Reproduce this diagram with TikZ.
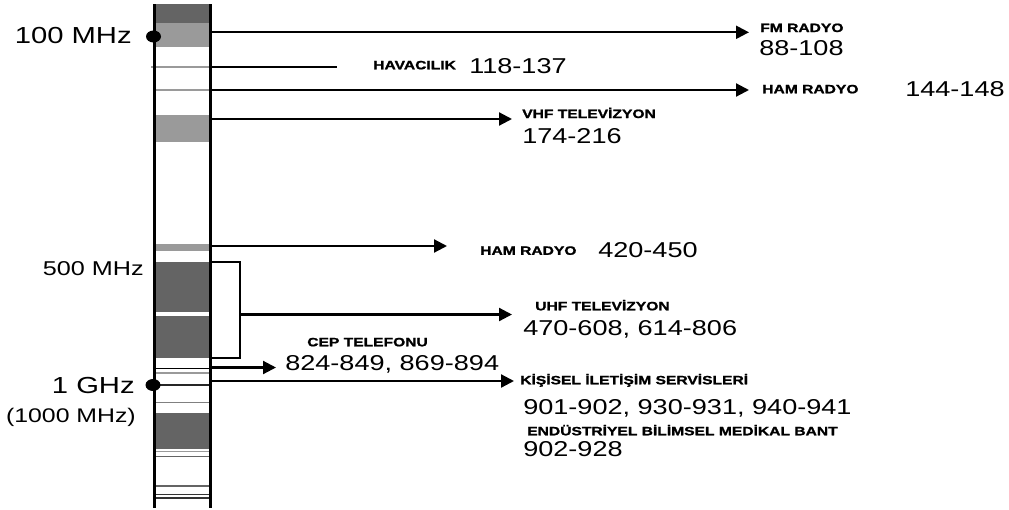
\documentclass[tikz,border=0pt]{standalone}
\usepackage{fontspec}
\setmainfont{Liberation Sans}
\newfontfamily\heavyfont{Liberation Sans Bold}[FakeBold=1.2]
\usetikzlibrary{arrows.meta,shapes.geometric}
\definecolor{dk}{HTML}{646464}
\definecolor{lt}{HTML}{9A9A9A}
\begin{document}
\begin{tikzpicture}[x=1pt,y=-1pt,
  num/.style={font=\fontsize{21.5}{24}\selectfont, xscale=1.26, anchor=base west, inner sep=0pt},
  lbl/.style={font=\heavyfont\fontsize{12.1}{14}\selectfont, xscale=1.29, anchor=base west, inner sep=0pt},
  freqbig/.style={font=\fontsize{23.2}{26}\selectfont, xscale=1.26, anchor=base east, inner sep=0pt},
  freqsmall/.style={font=\fontsize{20}{23}\selectfont, xscale=1.26, anchor=base east, inner sep=0pt},
  conn/.style={line width=2.2pt},
  arr/.style={conn, -{Triangle[length=13pt,width=13pt]}},
  barline/.style={line width=3pt},
  dot/.style={ellipse, fill=black, minimum width=15pt, minimum height=12pt, inner sep=0pt}]
\useasboundingbox (0,0) rectangle (1009,509);

% ---- bands of the spectrum bar
\fill[dk] (154,4) rectangle (210,23);
\fill[lt] (154,23) rectangle (210,47);
\draw[lt, line width=2.5pt] (151,67) -- (210,67);
\draw[lt, line width=2pt] (154,90) -- (210,90);
\fill[lt] (154,115) rectangle (210,142);
\fill[lt] (154,244) rectangle (210,251);
\fill[dk] (154,262) rectangle (210,312);
\fill[dk] (154,316) rectangle (210,358);
\draw[black, line width=1.2pt] (154,368.5) -- (210,368.5);
\draw[lt, line width=2pt] (154,373) -- (210,373);
\draw[black!85, line width=2.2pt] (154,385) -- (210,385);
\draw[gray, line width=1.4pt] (154,402.7) -- (210,402.7);
\fill[dk] (154,412.7) rectangle (210,449.3);
\draw[lt, line width=1.5pt] (154,451.5) -- (210,451.5);
\draw[dk, line width=1.5pt] (154,456.5) -- (210,456.5);
\draw[dk, line width=2pt] (154,486) -- (210,486);
\draw[black!80, line width=1.1pt] (154,494.5) -- (210,494.5);
\draw[black!80, line width=1.1pt] (154,498) -- (210,498);

% ---- bar outline
\draw[barline] (154,4) -- (154,508);
\draw[barline] (210,4) -- (210,508);

% ---- markers and frequency labels on the left
\node[dot] (d100) at (153.5,36.5) {};
\node[dot] (d1g) at (153,385) {};
\node[freqbig] (f100) at (132,43.6) {100 MHz};
\node[freqsmall] (f500) at (144,275.5) {500 MHz};
\node[freqbig] (f1g) at (135,393.3) {1 GHz};
\node[freqsmall, font=\fontsize{19.7}{22}\selectfont] (f1000) at (136,422.5) {(1000 MHz)};

% ---- connector end points
\coordinate (fmS) at (210,32.3);   \coordinate (fmE) at (749,32.3);
\coordinate (havS) at (210,66.7);  \coordinate (havE) at (337,66.7);
\coordinate (hamS) at (210,90);    \coordinate (hamE) at (749,90);
\coordinate (vhfS) at (210,119);   \coordinate (vhfE) at (512,119);
\coordinate (ham2S) at (210,246);  \coordinate (ham2E) at (447,246);
\coordinate (brT) at (210,262);    \coordinate (brB) at (210,358);
\coordinate (brC) at (240,358);
\coordinate (uhfS) at (240,314.5); \coordinate (uhfE) at (512,314.5);
\coordinate (cepS) at (210,367.5); \coordinate (cepE) at (276,367.5);
\coordinate (pcsS) at (210,381);   \coordinate (pcsE) at (514,381);

% ---- connectors
\draw[arr] (fmS) -- (fmE);
\draw[conn] (havS) -- (havE);
\draw[arr] (hamS) -- (hamE);
\draw[arr] (vhfS) -- (vhfE);
\draw[arr] (ham2S) -- (ham2E);
\draw[conn] (brT) -| (brC) -- (brB);
\draw[arr] (uhfS) -- (uhfE);
\draw[arr] (cepS) -- (cepE);
\draw[arr] (pcsS) -- (pcsE);

% ---- service labels
\node[lbl] (lfm) at (760,32) {FM RADYO};
\node[num] (nfm) at (759,55.2) {88-108};
\node[lbl] (lhav) at (373,69.3) {HAVACILIK};
\node[num] (nhav) at (469,73.7) {118-137};
\node[lbl] (lham) at (762,93.3) {HAM RADYO};
\node[num] (nham) at (905,96.7) {144-148};
\node[lbl] (lvhf) at (522,118) {VHF TELEVİZYON};
\node[num] (nvhf) at (522,143.7) {174-216};
\node[lbl] (lham2) at (480,254.8) {HAM RADYO};
\node[num] (nham2) at (598,257.7) {420-450};
\node[lbl] (luhf) at (535,310.3) {UHF TELEVİZYON};
\node[num] (nuhf) at (523,335.2) {470-608, 614-806};
\node[lbl] (lcep) at (307,346.3) {CEP TELEFONU};
\node[num] (ncep) at (285,370.2) {824-849, 869-894};
\node[lbl] (lpcs) at (520,384.3) {KİŞİSEL İLETİŞİM SERVİSLERİ};
\node[num] (npcs) at (523,414.7) {901-902, 930-931, 940-941};
\node[lbl] (lism) at (527,435.3) {ENDÜSTRİYEL BİLİMSEL MEDİKAL BANT};
\node[num] (nism) at (523,456.7) {902-928};
\end{tikzpicture}
\end{document}
